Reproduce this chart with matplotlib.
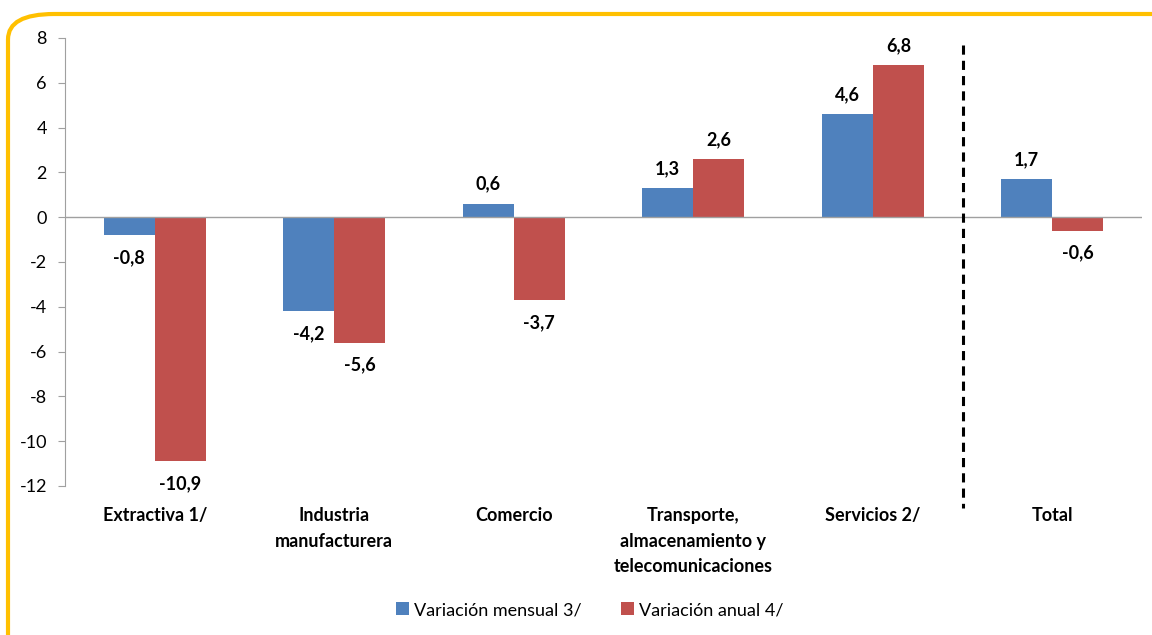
import matplotlib
matplotlib.use("Agg")
import matplotlib.pyplot as plt
from matplotlib.patches import FancyBboxPatch
import numpy as np

categories = ["Extractiva 1/", "Industria\nmanufacturera", "Comercio",
              "Transporte,\nalmacenamiento y\ntelecomunicaciones", "Servicios 2/", "Total"]
mensual = [-0.8, -4.2, 0.6, 1.3, 4.6, 1.7]
anual = [-10.9, -5.6, -3.7, 2.6, 6.8, -0.6]
series_names = ["Variación mensual 3/", "Variación anual 4/"]
yticks = list(range(-12, 9, 2))

plt.rcParams['font.family'] = ['Lato', 'DejaVu Sans']

fig = plt.figure(figsize=(11.52, 6.35), dpi=100)
ax = fig.add_axes([65/1152, 1-486/635, (1142-65)/1152, (486-38)/635])

blue = "#4F81BD"
red = "#C0504D"
x = np.arange(len(categories))
w = 0.285
b1 = ax.bar(x - w/2, mensual, w, color=blue, label=series_names[0])
b2 = ax.bar(x + w/2, anual, w, color=red, label=series_names[1])

def fmt(v):
    return f"{v:.1f}".replace(".", ",")

for bars, vals in ((b1, mensual), (b2, anual)):
    for r, v in zip(bars, vals):
        cx = r.get_x() + r.get_width()/2
        if v >= 0:
            ax.annotate(fmt(v), (cx, v), xytext=(0, 8), textcoords="offset points",
                        ha="center", va="bottom", fontsize=13, fontweight="bold")
        else:
            ax.annotate(fmt(v), (cx, v), xytext=(0, -10), textcoords="offset points",
                        ha="center", va="top", fontsize=13, fontweight="bold")

ax.set_xlim(-0.5, len(categories) - 0.5)
ax.set_ylim(-12, 8)
ax.set_yticks(yticks)
ax.set_yticklabels([str(t) for t in yticks], fontsize=13)
ax.tick_params(axis="y", length=5, color="#A0A0A0", pad=8)
ax.set_xticks([])
for s in ("top", "right", "bottom"):
    ax.spines[s].set_visible(False)
ax.spines["left"].set_color("#A0A0A0")
ax.axhline(0, color="#A0A0A0", lw=1)

for i, c in enumerate(categories):
    ax.text(i, -12.95, c, ha="center", va="top", fontsize=13, fontweight="bold",
            linespacing=1.6)

ax.plot([4.5, 4.5], [7.7, -13.0], color="black", lw=2.2, ls=(0, (3, 2)), clip_on=False)

leg = fig.legend(loc="center", bbox_to_anchor=(590/1152, 1-610/635), ncol=2, frameon=False,
                 fontsize=13, handlelength=0.7, handleheight=0.7, handletextpad=0.3,
                 columnspacing=2.2)

border = FancyBboxPatch((8/1152, -0.2), 1.2, 1-14/635 + 0.2,
                        boxstyle="round,pad=0,rounding_size=0.04",
                        transform=fig.transFigure, fill=False, ec="#FFC000", lw=3,
                        clip_on=True)
fig.patches.append(border)

fig.savefig("out.png", dpi=100)
